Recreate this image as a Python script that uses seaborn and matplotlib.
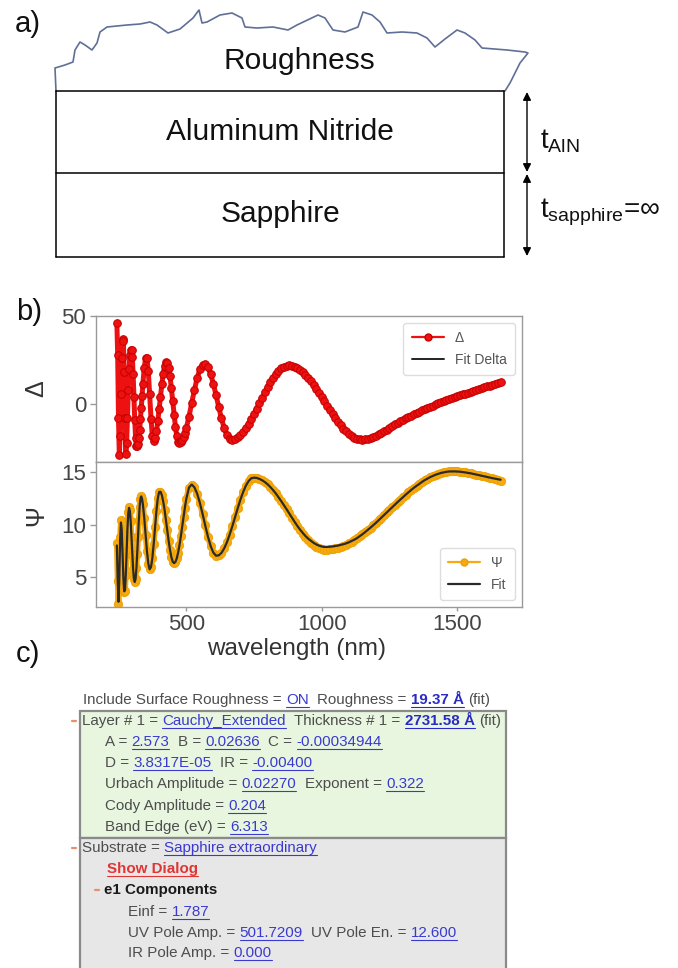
import matplotlib
matplotlib.use("Agg")
import matplotlib.pyplot as plt
from matplotlib.lines import Line2D
import pandas as pd
import seaborn as sns

sns.set_style("ticks")
plt.rcParams["font.family"] = ["Liberation Sans", "DejaVu Sans"]
plt.rcParams["mathtext.default"] = "regular"

# ---------------- data ----------------
wavelength = list(range(244, 341, 3)) + list(range(345, 501, 5)) + list(range(510, 1661, 10))

delta_meas = [
    46, 28, -8, -29, -18, 6, 26, 37, 36, 18, -8, -28, -22, -8, 8, 20, 28, 31, 31, 27,
    17, 4, -9, -19, -23.5, -23.9, -22.4, -19.1, -14.4, -8.5, -1.9, 4.9, 11.5,
    20.7, 26.1, 26.3, 18.9, 5.9, -8.1, -18.2, -21.0, -19.3, -15.4, -9.75, -2.9, 4.4, 11.4,
    17.4, 21.7, 23.8, 23.5, 20.8, 15.9, 9.3, 1.8, -5.8, -12.6, -18.0, -21.2, -22.0, -21.5,
    -20.4, -18.7, -16.5, -13.7,
    -7.0, 0.5, 8.0, 14.7, 19.7, 22.5, 22.8, 20.9, 17.1, 11.6,
    5.2, -1.6, -8.0, -13.6, -17.6, -19.7, -20.0, -19.5, -18.6, -17.2,
    -15.5, -13.4, -11.0, -8.3, -5.5, -2.4, 0.7, 3.8, 6.8, 9.7,
    12.4, 14.9, 17.1, 18.9, 20.3, 21.3, 21.9, 22.0, 21.8, 21.3,
    20.5, 19.5, 18.2, 16.6, 14.9, 13.0, 10.9, 8.7, 6.4, 4.0,
    1.6, -0.8, -3.2, -5.6, -7.8, -10.0, -12.0, -13.8, -15.4, -16.9,
    -18.0, -18.9, -19.6, -19.9, -20.0, -19.9, -19.6, -19.2, -18.6, -17.9,
    -17.1, -16.2, -15.3, -14.3, -13.3, -12.3, -11.4, -10.5, -9.6, -8.8,
    -8.0, -7.2, -6.4, -5.6, -4.8, -4.1, -3.4, -2.7, -2.0, -1.3,
    -0.7, 0.0, 0.6, 1.2, 1.8, 2.4, 3.0, 3.6, 4.1, 4.6,
    5.1, 5.6, 6.1, 6.6, 7.1, 7.6, 8.1, 8.6, 9.1, 9.6,
    10.1, 10.6, 11.1, 11.6, 12.1, 12.8,
]
delta_fit = [
    45, 27, -8, -28, -18, 6, 26, 36, 35, 18, -8, -27, -22, -8, 8, 20, 28, 31, 31, 27,
    17, 4, -9, -19, -23.5, -23.9, -22.4, -19.1, -14.4, -8.5, -1.9, 4.9, 11.5,
    20.7, 26.1, 26.3, 18.9, 5.9, -8.1, -18.2, -21.0, -19.3, -15.4, -9.75, -2.9, 4.4, 11.4,
    17.4, 21.7, 23.8, 23.5, 20.8, 15.9, 9.3, 1.8, -5.8, -12.6, -18.0, -21.2, -22.0, -21.5,
    -20.4, -18.7, -16.5, -13.7,
    -7.0, 0.5, 8.0, 14.7, 19.7, 22.5, 22.8, 20.9, 17.1, 11.6,
    5.2, -1.6, -8.0, -13.6, -17.6, -19.7, -20.0, -19.5, -18.6, -17.2,
    -15.5, -13.4, -11.0, -8.3, -5.5, -2.4, 0.7, 3.8, 6.8, 9.7,
    12.4, 14.9, 17.1, 18.9, 20.3, 21.3, 21.9, 22.0, 21.8, 21.3,
    20.5, 19.5, 18.2, 16.6, 14.9, 13.0, 10.9, 8.7, 6.4, 4.0,
    1.6, -0.8, -3.2, -5.6, -7.8, -10.0, -12.0, -13.8, -15.4, -16.9,
    -18.0, -18.9, -19.6, -19.9, -20.0, -19.9, -19.6, -19.2, -18.6, -17.9,
    -17.1, -16.2, -15.3, -14.3, -13.3, -12.3, -11.4, -10.5, -9.6, -8.8,
    -8.0, -7.2, -6.4, -5.6, -4.8, -4.1, -3.4, -2.7, -2.0, -1.3,
    -0.7, 0.0, 0.6, 1.2, 1.8, 2.4, 3.0, 3.6, 4.1, 4.6,
    5.1, 5.6, 6.1, 6.6, 7.1, 7.6, 8.1, 8.6, 9.1, 9.6,
    10.1, 10.6, 11.1, 11.6, 12.1, 12.6,
]
psi_meas = [
    8.2, 4.6, 2.4, 4.8, 8.8, 10.4, 9.6, 7.3, 4.9, 3.5, 3.6, 5.2, 7.5, 9.7, 11.2, 11.7,
    11.4, 10.3, 8.8, 7.1, 5.7, 4.8, 4.5, 4.8, 5.8, 7.2, 8.8, 10.4, 11.7, 12.5, 12.7,
    12.45, 11.95,
    10.65, 9.04, 7.45, 6.26, 5.71, 5.93, 6.80, 8.17, 9.78, 11.33, 12.52, 13.14, 13.15,
    12.82, 12.22, 11.42, 10.46, 9.44, 8.45, 7.58, 6.89, 6.45, 6.3, 6.42, 6.76, 7.31,
    8.03, 8.87, 9.79, 10.73, 11.63, 12.43,
    13.55, 13.84, 13.58, 12.98, 12.11, 11.05, 9.92, 8.85, 7.95, 7.31,
    7.02, 7.05, 7.29, 7.72, 8.30, 9.03, 9.84, 10.71, 11.57, 12.40,
    13.12, 13.73, 14.17, 14.44, 14.5, 14.47, 14.38, 14.25, 14.08, 13.87,
    13.61, 13.32, 13.0, 12.64, 12.27, 11.88, 11.48, 11.07, 10.66, 10.26,
    9.87, 9.49, 9.14, 8.81, 8.52, 8.26, 8.04, 7.86, 7.73, 7.64,
    7.6, 7.6, 7.63, 7.66, 7.72, 7.78, 7.87, 7.97, 8.09, 8.22,
    8.37, 8.52, 8.70, 8.88, 9.07, 9.28, 9.49, 9.71, 9.94, 10.17,
    10.42, 10.66, 10.91, 11.16, 11.41, 11.66, 11.91, 12.16, 12.40, 12.64,
    12.87, 13.10, 13.32, 13.53, 13.72, 13.92, 14.09, 14.26, 14.41, 14.55,
    14.67, 14.78, 14.87, 14.95, 15.01, 15.06, 15.09, 15.1, 15.1, 15.09,
    15.07, 15.04, 15.0, 14.96, 14.91, 14.86, 14.8, 14.74, 14.68, 14.62,
    14.56, 14.5, 14.45, 14.4, 14.32, 14.2,
]
psi_fit = [
    8.0, 4.8, 2.6, 4.8, 8.6, 10.2, 9.5, 7.3, 4.9, 3.6, 3.7, 5.2, 7.5, 9.6, 11.1, 11.6,
    11.3, 10.3, 8.8, 7.1, 5.7, 4.8, 4.5, 4.8, 5.8, 7.2, 8.8, 10.4, 11.7, 12.5, 12.7,
    12.45, 11.95,
    10.65, 9.04, 7.45, 6.26, 5.71, 5.93, 6.80, 8.17, 9.78, 11.33, 12.52, 13.14, 13.15,
    12.82, 12.22, 11.42, 10.46, 9.44, 8.45, 7.58, 6.89, 6.45, 6.3, 6.42, 6.76, 7.31,
    8.03, 8.87, 9.79, 10.73, 11.63, 12.43,
    13.55, 13.84, 13.58, 12.98, 12.11, 11.05, 9.92, 8.85, 7.95, 7.31,
    7.02, 7.05, 7.29, 7.72, 8.30, 9.03, 9.84, 10.71, 11.57, 12.40,
    13.12, 13.73, 14.17, 14.44, 14.5, 14.47, 14.38, 14.25, 14.08, 13.87,
    13.61, 13.32, 13.0, 12.64, 12.27, 11.88, 11.48, 11.07, 10.66, 10.26,
    9.87, 9.52, 9.2, 8.9, 8.65, 8.45, 8.25, 8.1, 7.98, 7.9,
    7.86, 7.86, 7.88, 7.9, 7.94, 7.99, 8.05, 8.12, 8.2, 8.3,
    8.42, 8.55, 8.70, 8.88, 9.07, 9.28, 9.49, 9.71, 9.94, 10.17,
    10.42, 10.66, 10.91, 11.16, 11.41, 11.66, 11.91, 12.16, 12.40, 12.64,
    12.87, 13.10, 13.32, 13.53, 13.72, 13.92, 14.09, 14.26, 14.41, 14.55,
    14.67, 14.78, 14.87, 14.95, 15.01, 15.06, 15.09, 15.1, 15.1, 15.09,
    15.07, 15.04, 15.0, 14.96, 14.91, 14.86, 14.8, 14.74, 14.68, 14.62,
    14.56, 14.5, 14.45, 14.4, 14.35, 14.3,
]
assert len(wavelength) == len(delta_meas) == len(delta_fit) == len(psi_meas) == len(psi_fit)

x_ticks = [500, 1000, 1500]
delta_ticks = [0, 50]
psi_ticks = [5, 10, 15]

# schematic outline of the rough surface (panel a), figure pixels
rough_x = [56, 55, 65, 73, 75, 80, 85, 92, 97, 100, 107, 127, 140, 150, 157, 168, 180, 193,
           199, 202, 207, 220, 232, 242, 245, 257, 273, 288, 297, 318, 325, 333, 345, 358,
           363, 372, 380, 387, 402, 417, 427, 435, 445, 457, 465, 475, 482, 507, 525, 528,
           520, 510, 505]
rough_y = [91, 68, 65, 62, 50, 42, 45, 50, 43, 32, 27, 25, 24, 22, 25, 33, 29, 18,
           10, 23, 22, 15, 13, 18, 27, 28, 27, 30, 25, 15, 18, 30, 32, 27,
           12, 15, 22, 33, 32, 33, 38, 47, 39, 30, 33, 40, 48, 50, 52, 53,
           63, 83, 91]

# model parameter panel (c)
param_rows = [
    (83, 700, [("Include Surface Roughness = ", "lab"), ("ON", "link"), ("  Roughness = ", "lab"),
               ("19.37 Å", "blink"), (" (fit)", "lab")]),
    (82, 721, [("Layer # 1 = ", "lab"), ("Cauchy_Extended", "link"), ("  Thickness # 1 = ", "lab"),
               ("2731.58 Å", "blink"), (" (fit)", "lab")]),
    (105, 742, [("A = ", "lab"), ("2.573", "link"), ("  B = ", "lab"), ("0.02636", "link"),
                ("  C = ", "lab"), ("-0.00034944", "link")]),
    (105, 763, [("D = ", "lab"), ("3.8317E-05", "link"), ("  IR = ", "lab"), ("-0.00400", "link")]),
    (105, 784, [("Urbach Amplitude = ", "lab"), ("0.02270", "link"), ("  Exponent = ", "lab"),
                ("0.322", "link")]),
    (105, 806, [("Cody Amplitude = ", "lab"), ("0.204", "link")]),
    (105, 827, [("Band Edge (eV) = ", "lab"), ("6.313", "link")]),
    (82, 848, [("Substrate = ", "lab"), ("Sapphire extraordinary", "link")]),
    (107, 869, [("Show Dialog", "red")]),
    (104, 890, [("e1 Components", "bold")]),
    (128, 912, [("Einf = ", "lab"), ("1.787", "link")]),
    (128, 933, [("UV Pole Amp. = ", "lab"), ("501.7209", "link"), ("  UV Pole En. = ", "lab"),
                ("12.600", "link")]),
    (128, 953, [("IR Pole Amp. = ", "lab"), ("0.000", "link")]),
]
dash_marks = [(74, 721), (74, 848), (97, 890)]

# ---------------- figure ----------------
W, H = 678, 968
fig = plt.figure(figsize=(W / 100, H / 100), dpi=100, facecolor="white")
ax0 = fig.add_axes([0, 0, 1, 1])
ax0.set_xlim(0, W)
ax0.set_ylim(H, 0)
ax0.axis("off")

# ---- panel a
ax0.text(28, 24, "a)", fontsize=21, ha="center", va="center", color="#111")
ax0.plot(rough_x, rough_y, color="#5f6f96", lw=1.2, solid_joinstyle="round")
for y in (91, 173, 257):
    ax0.plot([56, 504], [y, y], color="black", lw=1.1)
ax0.plot([56, 56], [91, 257], color="black", lw=1.1)
ax0.plot([504, 504], [91, 257], color="black", lw=1.1)
ax0.text(299, 61, "Roughness", fontsize=21.5, ha="center", va="center", color="#111")
ax0.text(280, 132, "Aluminum Nitride", fontsize=21.5, ha="center", va="center", color="#111")
ax0.text(280, 214, "Sapphire", fontsize=21.5, ha="center", va="center", color="#111")
for y0, y1 in ((92, 172), (174, 256)):
    ax0.annotate("", xy=(527, y0), xytext=(527, y1),
                 arrowprops=dict(arrowstyle="<|-|>", color="black", lw=1.0,
                                 mutation_scale=12, shrinkA=0, shrinkB=0))
ax0.text(540, 141, r"$t_{AlN}$", fontsize=20, ha="left", va="center", color="#111")
ax0.text(540, 212, r"$t_{sapphire}$=∞", fontsize=20, ha="left", va="center", color="#111")

# ---- panel b
ax0.text(29, 312, "b)", fontsize=21, ha="center", va="center", color="#111")
ax0.text(28, 654, "c)", fontsize=21, ha="center", va="center", color="#111")

df = pd.DataFrame({"wavelength": wavelength, "delta": delta_meas, "delta_fit": delta_fit,
                   "psi": psi_meas, "psi_fit": psi_fit})

left, right = 96 / W, 522 / W
ax1 = fig.add_axes([left, 1 - 462 / H, right - left, 146 / H])
ax2 = fig.add_axes([left, 1 - 607 / H, right - left, 145 / H], sharex=ax1)

red = "#ee1111"
orange = "#f7aa10"
sns.lineplot(data=df, x="wavelength", y="delta_fit", ax=ax1, color="#222222", lw=1.3,
             zorder=2)
sns.lineplot(data=df, x="wavelength", y="delta", ax=ax1, color=red, lw=3.6, marker="o",
             markersize=5.5, markeredgecolor="#c40000", markeredgewidth=0.7, zorder=3)
sns.lineplot(data=df, x="wavelength", y="psi", ax=ax2, color=orange, lw=4.2, marker="o",
             markersize=6, markeredgecolor="#eea000", markeredgewidth=0.6, zorder=2)
sns.lineplot(data=df, x="wavelength", y="psi_fit", ax=ax2, color="#2a2a2a", lw=1.6,
             zorder=3)

ax1.set_xlim(167, 1739)
ax1.set_ylim(-32.7, 50)
ax2.set_ylim(2.1, 16.0)
ax1.set_yticks(delta_ticks)
ax2.set_yticks(psi_ticks)
ax2.set_xticks(x_ticks)

for ax in (ax1, ax2):
    for sp in ax.spines.values():
        sp.set_visible(True)
        sp.set_color("#9a9a9a")
        sp.set_linewidth(1.0)
    ax.tick_params(axis="y", labelsize=16, labelcolor="#444444", color="#9a9a9a",
                   length=4, width=1, pad=3)
    ax.set_facecolor("white")
ax1.tick_params(axis="x", bottom=False, labelbottom=False)
ax2.tick_params(axis="x", labelsize=16, labelcolor="#444444", color="#9a9a9a",
                length=3, width=1, pad=2)

ax1.set_xlabel("")
ax1.set_ylabel("Δ", fontsize=18, color="#333333")
ax2.set_ylabel("Ψ", fontsize=18, color="#333333")
ax1.yaxis.set_label_coords(-0.112, 0.5)
ax2.yaxis.set_label_coords(-0.112, 0.63)
ax2.set_xlabel("wavelength (nm)", fontsize=17.5, color="#333333")
ax2.xaxis.set_label_coords(0.47, -0.215)

h_delta = Line2D([], [], color=red, lw=1.6, marker="o", ms=5, mec="#c40000")
h_dfit = Line2D([], [], color="#222222", lw=1.4)
h_psi = Line2D([], [], color=orange, lw=1.6, marker="o", ms=5, mec="#eea000")
h_pfit = Line2D([], [], color="#2a2a2a", lw=1.6)
leg1 = ax1.legend([h_delta, h_dfit], ["Δ", "Fit Delta"], loc="upper right", fontsize=10,
                  frameon=True, handlelength=2.3, labelspacing=0.55, borderpad=0.6,
                  fancybox=True, framealpha=1)
leg2 = ax2.legend([h_psi, h_pfit], ["Ψ", "Fit"], loc="lower right", fontsize=10, frameon=True,
                  handlelength=2.3, labelspacing=0.55, borderpad=0.6, fancybox=True,
                  framealpha=1)
for leg in (leg1, leg2):
    leg.get_frame().set_edgecolor("#dddddd")
    for t in leg.get_texts():
        t.set_color("#555555")

# ---- panel c
ax0.add_patch(plt.Rectangle((80, 711), 426, 127, facecolor="#e8f6e0", edgecolor="#8a8a8a",
                            lw=1.6, zorder=1))
ax0.add_patch(plt.Rectangle((80, 838), 426, 140, facecolor="#e7e7e7", edgecolor="#8a8a8a",
                            lw=1.6, zorder=1))

styles = {
    "lab": dict(color="#4d4d4d", weight="normal", ul=False),
    "link": dict(color="#3a3ad0", weight="normal", ul=True),
    "blink": dict(color="#2a2ac4", weight="bold", ul=True),
    "red": dict(color="#e03535", weight="bold", ul=True),
    "bold": dict(color="#1a1a1a", weight="bold", ul=False),
}
FS = 10.9
renderer = fig.canvas.get_renderer()


def text_width(s, weight):
    t1 = ax0.text(0, 0, "|" + s + "|", fontsize=FS, fontweight=weight)
    t2 = ax0.text(0, 0, "||", fontsize=FS, fontweight=weight)
    w = t1.get_window_extent(renderer).width - t2.get_window_extent(renderer).width
    t1.remove()
    t2.remove()
    return w


for x, y, segs in param_rows:
    for s, kind in segs:
        st = styles[kind]
        stripped = s.strip()
        lead = len(s) - len(s.lstrip())
        sp = text_width(" ", st["weight"])
        x += lead * sp
        ax0.text(x, y, stripped, fontsize=FS, color=st["color"], fontweight=st["weight"],
                 ha="left", va="center", zorder=3)
        w = text_width(stripped, st["weight"])
        if st["ul"]:
            ax0.plot([x, x + w], [y + 6.5, y + 6.5], color=st["color"], lw=0.8, zorder=3)
        x += w + (len(s) - len(s.rstrip())) * sp
for dx, dy in dash_marks:
    ax0.plot([dx - 2, dx + 2], [dy, dy], color="#e8906a", lw=1.6, zorder=3)

fig.savefig("out.png", dpi=100, facecolor="white")
